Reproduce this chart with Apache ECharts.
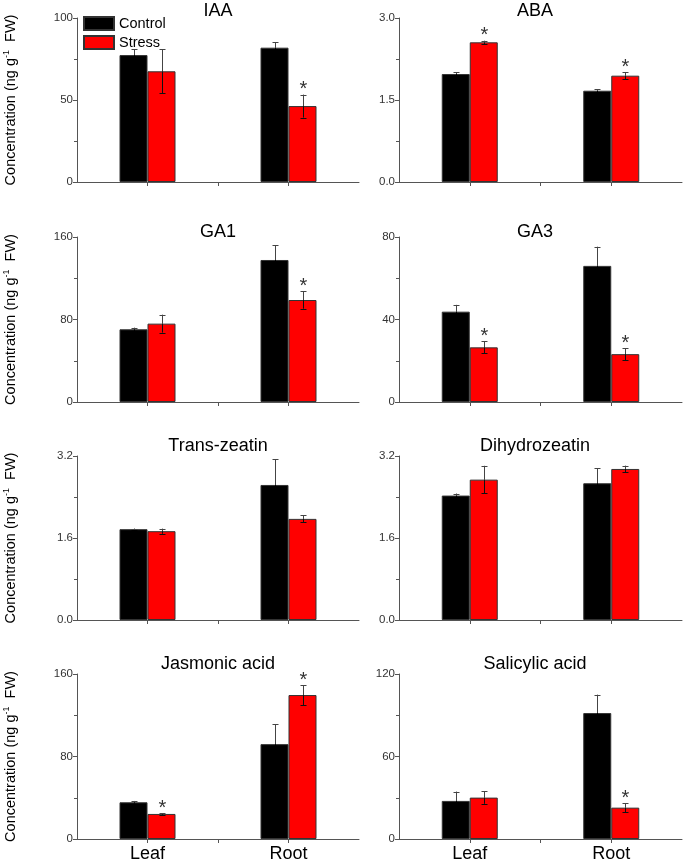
<!DOCTYPE html>
<html>
<head>
<meta charset="utf-8">
<script src="https://cdn.jsdelivr.net/npm/echarts@6/dist/echarts.min.js"></script>
<style>
html,body{margin:0;padding:0;background:#fff;}
#chart{width:685px;height:864px;}
</style>
</head>
<body>
<div id="chart"></div>
<script>
// ---------- data ----------
const categories = ['Leaf', 'Root'];
const seriesNames = ['Control', 'Stress'];
const panelTitles = ['IAA', 'ABA', 'GA1', 'GA3', 'Trans-zeatin', 'Dihydrozeatin', 'Jasmonic acid', 'Salicylic acid'];
const axisMax = [100, 3, 160, 80, 3.2, 3.2, 160, 120];
const axisStep = [50, 1.5, 80, 40, 1.6, 1.6, 80, 60];
const axisDecimals = [0, 1, 0, 0, 1, 1, 0, 0];

const iaaControl = [77.4, 81.9];
const iaaControlErr = [3.5, 3.3];
const iaaStress = [67.5, 46.3];
const iaaStressErr = [13.5, 7.0];
const iaaStressSig = [0, 1];

const abaControl = [1.975, 1.67];
const abaControlErr = [0.03, 0.025];
const abaStress = [2.555, 1.945];
const abaStressErr = [0.03, 0.065];
const abaStressSig = [1, 1];

const ga1Control = [70.5, 137.7];
const ga1ControlErr = [1.6, 14.5];
const ga1Stress = [76.0, 98.9];
const ga1StressErr = [8.7, 8.4];
const ga1StressSig = [0, 1];

const ga3Control = [43.8, 66.0];
const ga3ControlErr = [3.3, 9.3];
const ga3Stress = [26.5, 23.2];
const ga3StressErr = [2.9, 2.9];
const ga3StressSig = [1, 1];

const tzControl = [1.772, 2.635];
const tzControlErr = [0.013, 0.5];
const tzStress = [1.733, 1.973];
const tzStressErr = [0.05, 0.068];
const tzStressSig = [0, 0];

const dzControl = [2.428, 2.668];
const dzControlErr = [0.04, 0.29];
const dzStress = [2.739, 2.947];
const dzStressErr = [0.27, 0.065];
const dzStressSig = [0, 0];

const jaControl = [35.6, 92.0];
const jaControlErr = [1.3, 19.4];
const jaStress = [24.3, 139.6];
const jaStressErr = [0.8, 9.7];
const jaStressSig = [1, 1];

const saControl = [27.7, 91.6];
const saControlErr = [6.8, 13.4];
const saStress = [30.1, 22.8];
const saStressErr = [4.5, 3.2];
const saStressSig = [0, 1];

const panelControl = [iaaControl, abaControl, ga1Control, ga3Control, tzControl, dzControl, jaControl, saControl];
const panelControlErr = [iaaControlErr, abaControlErr, ga1ControlErr, ga3ControlErr, tzControlErr, dzControlErr, jaControlErr, saControlErr];
const panelStress = [iaaStress, abaStress, ga1Stress, ga3Stress, tzStress, dzStress, jaStress, saStress];
const panelStressErr = [iaaStressErr, abaStressErr, ga1StressErr, ga3StressErr, tzStressErr, dzStressErr, jaStressErr, saStressErr];
const panelStressSig = [iaaStressSig, abaStressSig, ga1StressSig, ga3StressSig, tzStressSig, dzStressSig, jaStressSig, saStressSig];

// ---------- layout ----------
const rowTop = [18, 237, 456, 674];
const rowHeight = [164, 165, 164, 165];
const colLeft = [77, 399];
const colWidth = [282, 283];
const titleCenterX = [218, 535];
const titleTop = [2, 223, 437, 655];
const BAR_W = 28;
const FONT = 'Liberation Sans, Arial, Helvetica, sans-serif';
const AXIS_COLOR = '#555';
const colors = ['#000000', '#ff0000'];

const grids = [], xAxes = [], yAxes = [], series = [], titles = [];

function errRenderer(side, sigArr, lowColor) {
  return function (params, api) {
    const i = api.value(0);
    const v = api.value(1);
    const e = api.value(2);
    const mid = api.coord([i, v]);
    const top = api.coord([i, v + e]);
    const bot = api.coord([i, v - e]);
    const x = Math.round(mid[0] + side * BAR_W / 2) + 0.5;
    const cap = 3;
    const children = [
      {type: 'line', shape: {x1: x, y1: top[1], x2: x, y2: mid[1]}, style: {stroke: '#444', lineWidth: 1}},
      {type: 'line', shape: {x1: x, y1: mid[1], x2: x, y2: bot[1]}, style: {stroke: lowColor, lineWidth: 1}},
      {type: 'line', shape: {x1: x - cap, y1: Math.round(top[1]) + 0.5, x2: x + cap, y2: Math.round(top[1]) + 0.5}, style: {stroke: '#444', lineWidth: 1}},
      {type: 'line', shape: {x1: x - cap, y1: Math.round(bot[1]) + 0.5, x2: x + cap, y2: Math.round(bot[1]) + 0.5}, style: {stroke: lowColor, lineWidth: 1}}
    ];
    if (sigArr && sigArr[i]) {
      children.push({
        type: 'text',
        style: {text: '*', x: x, y: top[1] - 15, fill: '#333', fontSize: 20, fontFamily: FONT,
                align: 'center', verticalAlign: 'top'}
      });
    }
    return {type: 'group', children: children};
  };
}

for (let p = 0; p < 8; p++) {
  const row = Math.floor(p / 2), col = p % 2;
  grids.push({left: colLeft[col], top: rowTop[row], width: colWidth[col], height: rowHeight[row], containLabel: false});
  const isBottom = row === 3;
  xAxes.push({
    type: 'category', gridIndex: p, data: categories, position: 'bottom',
    axisLine: {show: true, lineStyle: {color: AXIS_COLOR, width: 1}},
    axisTick: {show: true, alignWithLabel: true, length: 4, lineStyle: {color: AXIS_COLOR}},
    axisLabel: {show: isBottom, color: '#000', fontSize: 18, fontFamily: FONT, margin: 6},
    splitLine: {show: false}
  });
  // extra axis used only for the boundary tick between the two groups
  xAxes.push({
    type: 'category', gridIndex: p, data: ['', '', ''], position: 'bottom', offset: 0, boundaryGap: false,
    axisLine: {show: false},
    axisTick: {show: true, length: 4, interval: function (idx) { return idx === 1; }, lineStyle: {color: AXIS_COLOR}},
    axisLabel: {show: false}, splitLine: {show: false}
  });
  const dec = axisDecimals[p];
  const y = {
    type: 'value', gridIndex: p, min: 0, max: axisMax[p], interval: axisStep[p],
    axisLine: {show: true, lineStyle: {color: AXIS_COLOR, width: 1}},
    axisTick: {show: true, length: 4, lineStyle: {color: AXIS_COLOR}},
    minorTick: {show: true, splitNumber: 2, length: 3, lineStyle: {color: AXIS_COLOR}},
    splitLine: {show: false},
    axisLabel: {color: '#333', fontSize: 11.5, fontFamily: FONT, margin: 4,
                formatter: function (val) { return val.toFixed(dec); }}
  };
  if (col === 0) {
    y.name = '{a|Concentration (ng g}{s|-1}{a|  FW)}';
    y.nameLocation = 'middle';
    y.nameGap = 58;
    y.nameRotate = 90;
    y.nameTextStyle = {
      rich: {
        a: {fontSize: 14.5, fontFamily: FONT, color: '#000'},
        s: {fontSize: 9, fontFamily: FONT, color: '#000', verticalAlign: 'top', padding: [0, 0, 8, 0]}
      }
    };
  }
  yAxes.push(y);

  titles.push({
    text: panelTitles[p], left: titleCenterX[col], top: titleTop[row], textAlign: 'center', padding: 0,
    textStyle: {fontSize: 18, fontWeight: 'normal', color: '#000', fontFamily: FONT}
  });

  const ctrl = panelControl[p], str = panelStress[p];
  series.push({
    name: seriesNames[0], type: 'bar', xAxisIndex: 2 * p, yAxisIndex: p, data: ctrl,
    barWidth: BAR_W, barGap: '0%',
    itemStyle: {color: colors[0], borderColor: '#333', borderWidth: 1}, z: 2
  });
  series.push({
    name: seriesNames[1], type: 'bar', xAxisIndex: 2 * p, yAxisIndex: p, data: str,
    barWidth: BAR_W, barGap: '0%',
    itemStyle: {color: colors[1], borderColor: '#333', borderWidth: 1}, z: 2
  });
  series.push({
    type: 'custom', xAxisIndex: 2 * p, yAxisIndex: p, z: 5, silent: true,
    renderItem: errRenderer(-1, null, '#000'),
    data: ctrl.map(function (v, i) { return [i, v, panelControlErr[p][i]]; })
  });
  series.push({
    type: 'custom', xAxisIndex: 2 * p, yAxisIndex: p, z: 5, silent: true,
    renderItem: errRenderer(1, panelStressSig[p], '#111'),
    data: str.map(function (v, i) { return [i, v, panelStressErr[p][i]]; })
  });
}

const chart = echarts.init(document.getElementById('chart'), null, {renderer: 'canvas'});
chart.setOption({
  animation: false,
  backgroundColor: '#fff',
  title: titles,
  legend: {
    data: seriesNames, orient: 'vertical', left: 83, top: 16, padding: 0,
    itemWidth: 30, itemHeight: 13, itemGap: 4, icon: 'rect',
    textStyle: {fontSize: 14.5, color: '#000', fontFamily: FONT}
  },
  grid: grids,
  xAxis: xAxes,
  yAxis: yAxes,
  series: series
});
</script>
</body>
</html>
